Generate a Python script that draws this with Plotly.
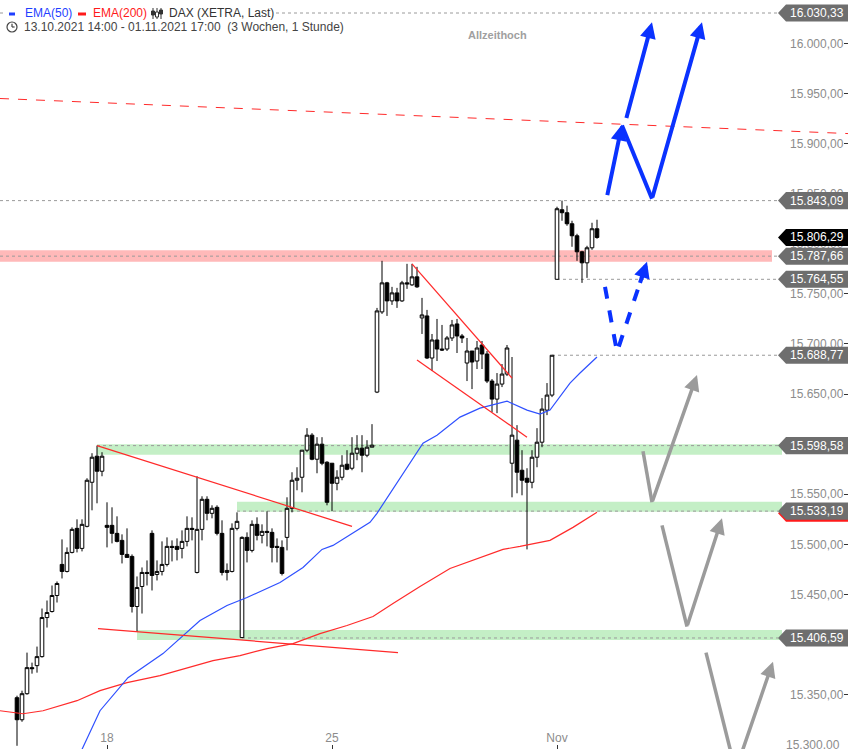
import plotly.graph_objects as go

W, H = 848, 749

# ---- hourly candles, 9 bars per day (14.10.2021 09:00 ... 01.11.2021 17:00) ----
opens = [
    15347, 15325, 15351, 15377, 15379, 15388, 15427, 15433, 15449,
    15480, 15473, 15492, 15516, 15496, 15518, 15562, 15588, 15573,
    15519, 15519, 15511, 15504, 15490, 15488, 15438, 15458, 15472,
    15511, 15470, 15473, 15480, 15498, 15498, 15496, 15503, 15516,
    15472, 15515, 15545, 15531, 15537, 15511, 15472, 15473, 15516,
    15407, 15507, 15494, 15520, 15509, 15513, 15512, 15498, 15497,
    15507, 15536, 15564, 15567, 15594, 15609, 15585, 15600, 15582,
    15581, 15561, 15567, 15580, 15576, 15591, 15596, 15589, 15597,
    15652, 15732, 15761, 15743, 15751, 15743, 15761, 15759, 15767,
    15726, 15728, 15686, 15704, 15695, 15695, 15706, 15720, 15708,
    15681, 15693, 15683, 15699, 15690, 15663, 15645, 15660, 15670,
    15581, 15604, 15574, 15566, 15562, 15587, 15602, 15634, 15649,
    15764.55, 15834, 15831, 15820, 15808, 15792, 15781, 15796, 15815,
]
highs = [
    15349, 15354, 15392, 15382, 15398, 15436, 15444, 15459, 15463,
    15505, 15497, 15517, 15525, 15525, 15566, 15591, 15598.58, 15592,
    15542, 15537, 15528, 15510, 15516, 15490, 15468, 15477, 15484,
    15514, 15484, 15503, 15507, 15504, 15506, 15514, 15528, 15527,
    15568, 15548, 15548, 15539, 15539, 15524, 15481, 15521, 15532,
    15508, 15512, 15524, 15527, 15520, 15533, 15516, 15506, 15504,
    15547, 15572, 15577, 15594, 15616, 15611, 15607, 15607, 15583,
    15581, 15574, 15589, 15594, 15607, 15609, 15609, 15604, 15620,
    15736, 15783, 15762, 15757, 15756, 15763, 15780, 15780, 15777,
    15746, 15734, 15710, 15725, 15719, 15708, 15724, 15725, 15710,
    15706, 15693, 15703, 15703, 15693, 15665, 15671, 15680, 15699,
    15687, 15619, 15594, 15576, 15594, 15616, 15646, 15661, 15688.77,
    15837, 15843.09, 15838, 15823, 15810, 15793, 15798, 15821, 15824,
]
lows = [
    15299, 15323, 15350, 15371, 15372, 15387, 15417, 15432, 15442,
    15466, 15472, 15491, 15492, 15493, 15517, 15534, 15541, 15568,
    15497, 15501, 15502, 15481, 15487, 15432, 15413, 15431, 15459,
    15454, 15464, 15469, 15478, 15483, 15484, 15486, 15498, 15504,
    15471, 15504, 15524, 15526, 15509, 15469, 15464, 15472, 15514,
    15406.59, 15482, 15492, 15504, 15501, 15498, 15482, 15482, 15469,
    15494, 15532, 15554, 15552, 15592, 15584, 15571, 15579, 15539,
    15533.19, 15554, 15564, 15574, 15574, 15584, 15572, 15587, 15597,
    15651, 15730, 15728, 15739, 15736, 15742, 15755, 15758, 15756,
    15710, 15685, 15673, 15683, 15693, 15693, 15703, 15691, 15701,
    15663, 15655, 15675, 15675, 15661, 15632, 15631, 15657, 15668,
    15547, 15551, 15549, 15495, 15556, 15577, 15597, 15629, 15647,
    15764.55, 15823, 15818, 15797, 15783, 15761, 15766, 15794, 15805,
]
closes = [
    15325, 15351, 15377, 15376, 15388, 15427, 15432, 15449, 15461,
    15473, 15492, 15515, 15496, 15520, 15564, 15587, 15573, 15588,
    15517, 15511, 15503, 15490, 15487, 15438, 15457, 15472, 15471,
    15469, 15473, 15480, 15498, 15497, 15495, 15503, 15516, 15515,
    15515, 15545, 15531, 15536, 15511, 15472, 15474, 15516, 15523,
    15507, 15494, 15520, 15509, 15513, 15512, 15497, 15497, 15471,
    15536, 15564, 15566, 15594, 15609, 15585, 15600, 15581, 15542,
    15561, 15567, 15579, 15575, 15591, 15596, 15589, 15597, 15599,
    15733, 15761, 15743, 15751, 15743, 15761, 15760, 15767, 15757,
    15729, 15686, 15704, 15695, 15694, 15706, 15719, 15708, 15706,
    15693, 15682, 15696, 15690, 15663, 15645, 15660, 15670, 15696,
    15609, 15572, 15564, 15562, 15587, 15602, 15635, 15649, 15688.77,
    15835, 15831, 15820, 15808, 15792, 15781, 15796, 15815, 15806.29,
]
bar_index = list(range(len(opens)))

day_tick_index = [18, 63, 108]
day_tick_text = ["18", "25", "Nov"]

# price axis ticks (15.400,00 is hidden behind the 15.406,59 tag in the original)
price_ticks = [15300, 15350, 15450, 15500, 15550, 15600, 15650, 15700, 15750,
               15800, 15850, 15900, 15950, 16000]
edge_tick = 15300  # partly cut label at the bottom edge

# ---- moving averages (bar index / price) ----
ema50_i = [11, 13.2, 16.6, 22.2, 29.2, 36.6, 42, 46, 52.6, 57.2, 61, 63.2, 70.6, 72, 76,
           81.2, 84, 88.6, 92.6, 98, 102, 104.6, 106.6, 110.6, 112.6, 116]
ema50_p = [15274, 15297, 15334, 15367, 15391, 15424, 15439, 15447, 15462, 15477, 15495, 15499,
           15522, 15531, 15561, 15601, 15609, 15627, 15636, 15643, 15634, 15630, 15634, 15661,
           15671, 15687]
ema200_i = [-3.4, 1.2, 5.2, 12, 16.6, 22, 28.6, 34, 39.2, 44.6, 50, 55.2, 60.6, 66, 71.2, 75.2,
            80.6, 86.6, 92.6, 97.2, 100.6, 106.6, 111.2, 116]
ema200_p = [15334, 15331, 15334, 15344, 15354, 15362, 15369, 15377, 15384, 15389, 15396, 15401,
            15411, 15419, 15428, 15441, 15458, 15476, 15487, 15495, 15498, 15504, 15517, 15532]

# ---- drawn trend lines ----
trend_lines_i = [[16, 67], [16.2, 76.2], [79, 99], [80, 102]]
trend_lines_p = [[15598.58, 15518], [15416, 15392], [15780, 15666], [15684, 15607]]
dashed_res_i = [-3.4, 166.2]
dashed_res_p = [15945, 15910]

# ---- zones ----
zone_low = [15782.0, 15589.5, 15532.5, 15404.5]
zone_high = [15793.5, 15600.0, 15542.5, 15414.5]
zone_start_i = [-3.4, 16, 44, 24]
zone_end_i = [151.0, 153.0, 153.0, 153.0]
zone_colors = ["#ffb9b9", "#c4efc6", "#c4efc6", "#c4efc6"]

# ---- price levels with tags ----
level_values = [16030.33, 15843.09, 15806.29, 15787.66, 15764.55, 15688.77, 15598.58, 15533.19, 15406.59]
level_start_i = [-3.4, -3.4, None, -3.4, 108, 107, 16, 44, 45]
level_tag_colors = ["#6e6e6e", "#6e6e6e", "#000000", "#6e6e6e", "#6e6e6e", "#6e6e6e",
                    "#6e6e6e", "#6e6e6e", "#6e6e6e"]
ema200_tag_value = 15531.0

# ---- scenario arrows ----
blue_paths_i = [[118.0, 121.0], [121.8, 127.0], [121.0, 127.0, 137.0]]
blue_paths_p = [[15847, 15919], [15924, 16021], [15918, 15845, 16021]]
blue_dash_i = [117.6, 120.0, 126.0]
blue_dash_p = [15757, 15692, 15782]
grey_paths_i = [[125.2, 127.0, 136.0], [129.0, 134.0, 141.0], [137.8, 143.7, 151.2]]
grey_paths_p = [[15593, 15542, 15669], [15519, 15418, 15526], [15392, 15274, 15383]]

X_RANGE = [-3.4, 166.2]
Y_RANGE = [15295.8, 16043.3]
FONT = "Liberation Sans, Arial, sans-serif"


def px_x(px):
    return px / W


def px_y(py):
    return 1 - py / H


def de(v):
    s = f"{v:,.2f}"
    return s.replace(",", "X").replace(".", ",").replace("X", ".")


fig = go.Figure()
shapes = []

# zones
for lo, hi, x0, x1, c in zip(zone_low, zone_high, zone_start_i, zone_end_i, zone_colors):
    shapes.append(dict(type="rect", xref="x", yref="y", x0=x0, x1=x1, y0=lo, y1=hi,
                       fillcolor=c, line=dict(width=0), layer="below"))

# dotted level lines
tag_tip_i = 152.2
for v, s in zip(level_values, level_start_i):
    if s is None:
        continue
    shapes.append(dict(type="line", xref="x", yref="y", x0=s, x1=tag_tip_i, y0=v, y1=v,
                       line=dict(color="#9a9a9a", width=1, dash="dot"), layer="below"))

# EMAs
fig.add_trace(go.Scatter(x=ema200_i, y=ema200_p, mode="lines",
                         line=dict(color="#ff2b2b", width=1.2), hoverinfo="skip"))
fig.add_trace(go.Scatter(x=ema50_i, y=ema50_p, mode="lines",
                         line=dict(color="#2f50ff", width=1.2), hoverinfo="skip"))

# trend lines
for ti, tp in zip(trend_lines_i, trend_lines_p):
    fig.add_trace(go.Scatter(x=ti, y=tp, mode="lines",
                             line=dict(color="#ff2a2a", width=1.2), hoverinfo="skip"))
fig.add_trace(go.Scatter(x=dashed_res_i, y=dashed_res_p, mode="lines",
                         line=dict(color="#ff2a2a", width=1, dash="dash"), hoverinfo="skip"))

# candles
fig.add_trace(go.Candlestick(
    x=bar_index, open=opens, high=highs, low=lows, close=closes,
    increasing=dict(line=dict(color="black", width=1), fillcolor="white"),
    decreasing=dict(line=dict(color="black", width=1), fillcolor="black"),
    whiskerwidth=0, hoverinfo="skip"))

annotations = []


def add_head(xs, ys, color, width, size, frac=1.0):
    x1, y1 = xs[-1], ys[-1]
    x0, y0 = xs[-2], ys[-2]
    annotations.append(dict(x=x1, y=y1, ax=x1 - (x1 - x0) * frac, ay=y1 - (y1 - y0) * frac,
                            xref="x", yref="y", axref="x", ayref="y", showarrow=True,
                            arrowhead=2, arrowsize=size, arrowwidth=width,
                            arrowcolor=color, text=""))


# grey scenario arrows
for gi, gp in zip(grey_paths_i, grey_paths_p):
    fig.add_trace(go.Scatter(x=gi[:-1], y=gp[:-1], mode="lines",
                             line=dict(color="#9b9b9b", width=3.5), hoverinfo="skip"))
    add_head(gi, gp, "#9b9b9b", 3.5, 0.9)

# blue scenario arrows
for bi, bp in zip(blue_paths_i, blue_paths_p):
    if len(bi) > 2:
        fig.add_trace(go.Scatter(x=bi[:-1], y=bp[:-1], mode="lines",
                                 line=dict(color="#0a32ff", width=4), hoverinfo="skip"))
    add_head(bi, bp, "#0a32ff", 4, 0.8)
fig.add_trace(go.Scatter(x=blue_dash_i, y=blue_dash_p, mode="lines",
                         line=dict(color="#0a32ff", width=4, dash="dash"), hoverinfo="skip"))
add_head(blue_dash_i, blue_dash_p, "#0a32ff", 4, 0.8, frac=0.25)

# value tags on the right


def tag_path(v):
    h = 8.5
    return (f"M {px_x(778)},{v} L {px_x(786)},{v + h} L 1,{v + h} "
            f"L 1,{v - h} L {px_x(786)},{v - h} Z")


shapes.append(dict(type="path", xref="paper", yref="y", path=tag_path(ema200_tag_value),
                   fillcolor="#ff1a1a", line=dict(width=0), layer="above"))
for v, c in zip(level_values, level_tag_colors):
    shapes.append(dict(type="path", xref="paper", yref="y", path=tag_path(v),
                       fillcolor=c, line=dict(width=0), layer="above"))
    annotations.append(dict(x=px_x(817), y=v, xref="paper", yref="y", text=de(v),
                            showarrow=False, xanchor="center", yanchor="middle",
                            font=dict(family=FONT, size=12, color="white")))

# bottom-edge tick label (cut by the chart edge)
annotations.append(dict(x=px_x(842), y=edge_tick, xref="paper", yref="y", text=de(edge_tick),
                        showarrow=False, xanchor="right", yanchor="middle",
                        font=dict(family=FONT, size=12, color="#8c8c8c")))

# header
shapes.append(dict(type="rect", xref="paper", yref="paper", x0=px_x(6), x1=px_x(276),
                   y0=px_y(21), y1=px_y(5), fillcolor="white", line=dict(width=0), layer="above"))
shapes.append(dict(type="rect", xref="paper", yref="paper", x0=px_x(9), x1=px_x(15),
                   y0=px_y(15.5), y1=px_y(12.5), fillcolor="#1f3fff", line=dict(width=0), layer="above"))
shapes.append(dict(type="rect", xref="paper", yref="paper", x0=px_x(78), x1=px_x(86),
                   y0=px_y(15.5), y1=px_y(12.5), fillcolor="#ff1a1a", line=dict(width=0), layer="above"))
# small candle icon
for cx, b0, b1, filled in [(153, 11, 15, True), (157, 12, 17, False), (161, 10, 14, True)]:
    shapes.append(dict(type="line", xref="paper", yref="paper", x0=px_x(cx), x1=px_x(cx),
                       y0=px_y(19), y1=px_y(8), line=dict(color="#333", width=1), layer="above"))
    shapes.append(dict(type="rect", xref="paper", yref="paper", x0=px_x(cx - 1.5), x1=px_x(cx + 1.5),
                       y0=px_y(b1), y1=px_y(b0), fillcolor="#333" if filled else "white",
                       line=dict(color="#333", width=1), layer="above"))
# clock icon
shapes.append(dict(type="circle", xref="paper", yref="paper", x0=px_x(7), x1=px_x(17),
                   y0=px_y(32), y1=px_y(22), line=dict(color="#444", width=1.2), layer="above"))
shapes.append(dict(type="line", xref="paper", yref="paper", x0=px_x(12), x1=px_x(12),
                   y0=px_y(27), y1=px_y(23.8), line=dict(color="#444", width=1.2), layer="above"))
shapes.append(dict(type="line", xref="paper", yref="paper", x0=px_x(12), x1=px_x(14.6),
                   y0=px_y(27), y1=px_y(27), line=dict(color="#444", width=1.2), layer="above"))

header_texts = [("EMA(50)", 23, 13, "#1f3fff"), ("EMA(200)", 91, 13, "#ff1a1a"),
                ("DAX (XETRA, Last)", 167, 13, "#333333"),
                ("13.10.2021 14:00 - 01.11.2021 17:00&nbsp;&nbsp;(3 Wochen, 1 Stunde)", 22, 27, "#444444")]
for t, x, y, c in header_texts:
    annotations.append(dict(x=px_x(x), y=px_y(y), xref="paper", yref="paper", text=t,
                            showarrow=False, xanchor="left", yanchor="middle",
                            font=dict(family=FONT, size=12, color=c)))
annotations.append(dict(x=px_x(497), y=px_y(35), xref="paper", yref="paper",
                        text="<b>Allzeithoch</b>", showarrow=False, xanchor="center",
                        yanchor="middle", font=dict(family=FONT, size=11, color="#a0a0a0")))

fig.update_layout(
    width=W, height=H, margin=dict(l=0, r=0, t=0, b=0),
    paper_bgcolor="white", plot_bgcolor="white", showlegend=False,
    separators=",.", font=dict(family=FONT),
    boxgap=0.1, boxgroupgap=0.2,
    shapes=shapes, annotations=annotations, hovermode=False,
    xaxis=dict(range=X_RANGE, tickvals=day_tick_index, ticktext=day_tick_text,
               ticks="inside", ticklen=4, tickcolor="#333", ticklabelposition="inside",
               tickfont=dict(size=12, color="#8c8c8c", family=FONT),
               showgrid=False, zeroline=False, showline=False,
               rangeslider=dict(visible=False), automargin=False, fixedrange=True),
    yaxis=dict(range=Y_RANGE, side="right", tickformat=",.2f", tickmode="array",
               tickvals=price_ticks, ticklabeloverflow="allow",
               ticks="inside", ticklen=4, tickcolor="#333", ticklabelposition="inside",
               tickfont=dict(size=12, color="#8c8c8c", family=FONT),
               showgrid=False, zeroline=False, showline=True, linecolor="#d8d8d8",
               automargin=False, fixedrange=True),
)

fig.write_html("out.html", config={"displayModeBar": False},
               post_script="document.body.style.margin='0';")
